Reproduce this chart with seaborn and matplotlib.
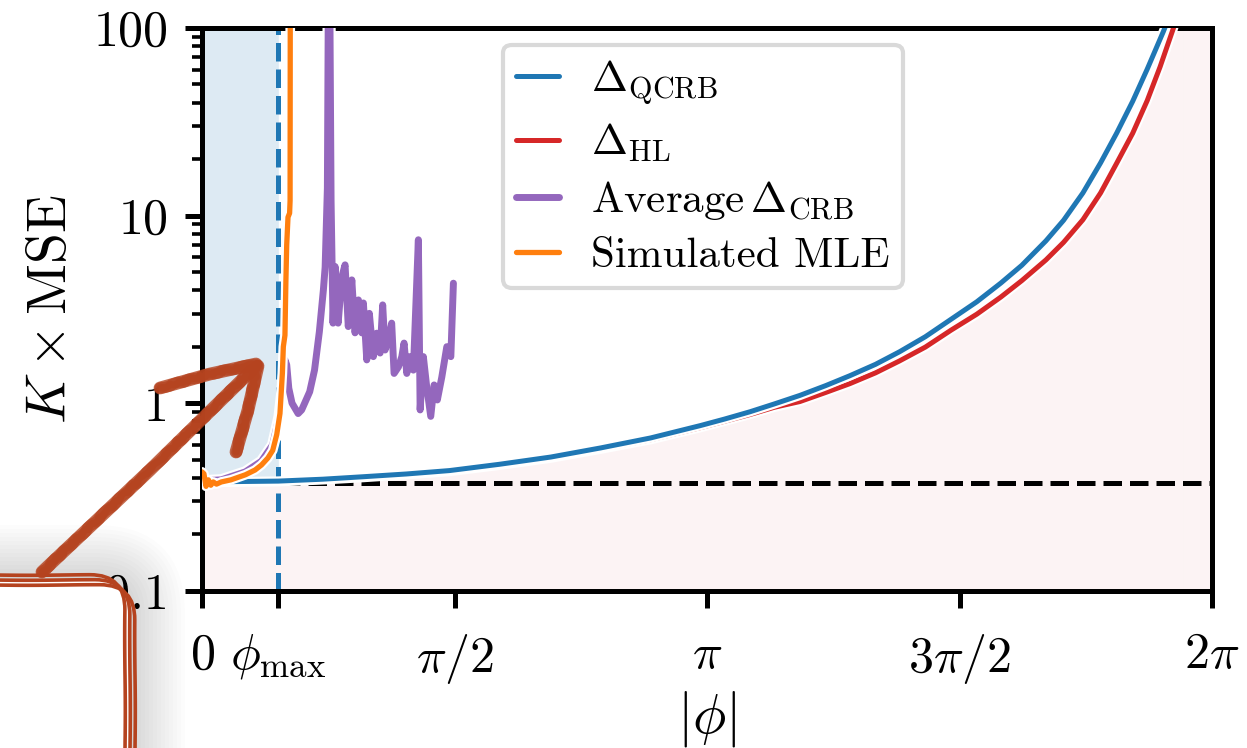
import matplotlib.pyplot as plt
import matplotlib.patheffects as pe
from matplotlib.patches import FancyBboxPatch
from matplotlib.lines import Line2D
from matplotlib.transforms import IdentityTransform
from matplotlib.ticker import NullFormatter
import numpy as np
import seaborn as sns

# --- values ------------------------------------------------------------------
PHI_MAX = 0.475
DASH_LEVEL = 0.377

phi_qcrb = [0.0, 0.475, 0.75, 1.0, 1.27, 1.54, 1.85, 2.17, 2.48, 2.79, 3.1,
            3.25, 3.41, 3.56, 3.72, 3.88, 4.03, 4.19, 4.34, 4.5, 4.66, 4.82,
            4.97, 5.1, 5.25, 5.36, 5.48, 5.59, 5.69, 5.79, 5.88, 5.98, 6.05]
qcrb = [0.380, 0.384, 0.393, 0.405, 0.419, 0.437, 0.472, 0.516, 0.577, 0.652, 0.759,
        0.822, 0.90, 0.99, 1.10, 1.24, 1.40, 1.61, 1.88, 2.26, 2.80, 3.47,
        4.37, 5.43, 7.33, 9.44, 13.2, 19.1, 27.5, 40.7, 60.3, 95.5, 135.0]

phi_hl = [0.0, 0.475, 0.75, 1.0, 1.27, 1.54, 1.85, 2.17, 2.48, 2.79, 3.1,
          3.25, 3.41, 3.56, 3.72, 3.88, 4.03, 4.19, 4.34, 4.5, 4.66, 4.82,
          4.97, 5.1, 5.25, 5.36, 5.48, 5.59, 5.69, 5.79, 5.88, 5.96, 6.04, 6.1]
hl = [0.377, 0.381, 0.390, 0.401, 0.415, 0.432, 0.466, 0.509, 0.568, 0.638, 0.74,
      0.80, 0.87, 0.95, 1.02, 1.14, 1.27, 1.45, 1.68, 1.99, 2.45, 2.98,
      3.68, 4.5, 5.8, 7.2, 9.5, 13.2, 19.0, 27.5, 41.0, 62.0, 98.0, 140.0]

phi_crb = [0.0, 0.12, 0.27, 0.37, 0.44, 0.48, 0.50, 0.516, 0.527, 0.54, 0.56,
           0.598, 0.62, 0.67, 0.70, 0.73, 0.755, 0.766, 0.78, 0.786, 0.795, 0.803,
           0.815, 0.828, 0.847, 0.870, 0.890, 0.910, 0.932, 0.952, 0.973, 0.994,
           1.004, 1.025, 1.041, 1.066, 1.087, 1.108, 1.124, 1.139, 1.159, 1.180,
           1.195, 1.222, 1.243, 1.257, 1.274, 1.294, 1.315, 1.346, 1.357, 1.377,
           1.398, 1.423, 1.444, 1.464, 1.492, 1.523, 1.548, 1.564]
crb = [0.385, 0.39, 0.43, 0.49, 0.60, 0.85, 1.2, 1.7, 1.6, 1.2, 1.0,
       0.88, 0.92, 1.15, 1.5, 2.4, 4.0, 5.3, 14.0, 150.0, 150.0, 12.0,
       2.67, 5.35, 2.67, 4.72, 5.46, 2.56, 4.54, 2.37, 3.55, 2.37,
       3.42, 1.70, 3.01, 1.77, 2.36, 1.85, 3.34, 1.92, 2.17, 2.67,
       1.44, 1.56, 1.77, 2.09, 1.44, 1.77, 1.50, 7.43, 0.92, 1.77,
       1.22, 0.85, 1.25, 1.04, 1.38, 2.0, 1.77, 4.36]

phi_mle = [0.0, 0.012, 0.025, 0.04, 0.055, 0.07, 0.09, 0.12, 0.18, 0.27, 0.33,
           0.37, 0.41, 0.44, 0.465, 0.485, 0.50, 0.506, 0.516, 0.522, 0.527,
           0.535, 0.545, 0.548, 0.549, 0.55]
mle = [0.43, 0.42, 0.36, 0.39, 0.365, 0.38, 0.37, 0.38, 0.39, 0.415, 0.44,
       0.468, 0.51, 0.56, 0.68, 0.88, 1.44, 2.0, 2.3, 4.5, 7.0,
       9.8, 10.3, 12.0, 100.0, 150.0]

xtick_pos = [0, PHI_MAX, np.pi / 2, np.pi, 1.5 * np.pi, 2 * np.pi]
xtick_labels = ["$0$", r"$\phi_{\rm max}$", r"$\pi/2$", r"$\pi$", r"$3\pi/2$", r"$2\pi$"]
ytick_pos = [0.1, 1, 10, 100]
ytick_labels = ["0.1", "1", "10", "100"]

# --- style ---------------------------------------------------------------------
sns.set_theme(style="ticks")
plt.rcParams.update({
    "font.family": "serif",
    "font.serif": ["cmr10"],
    "mathtext.fontset": "cm",
    "axes.formatter.use_mathtext": True,
    "axes.edgecolor": "black",
    "axes.linewidth": 1.8,
    "xtick.color": "black",
    "ytick.color": "black",
    "text.color": "black",
    "axes.labelcolor": "black",
})

W, H, DPI = 1247, 748, 200
fig = plt.figure(figsize=(W / DPI, H / DPI), dpi=DPI)
ax = fig.add_axes([202 / W, 1 - 590.7 / H, 1010 / W, 562.7 / H])
ax.set_yscale("log")


def halo(lw):
    return [pe.Stroke(linewidth=lw + 1.6, foreground="white"), pe.Normal()]


# shaded regions
ax.fill_between(phi_qcrb[:2], qcrb[:2], 100, color="tab:blue", alpha=0.15, lw=0, zorder=0)
ax.fill_between(phi_hl, hl, 0.1, color="tab:red", alpha=0.05, lw=0, zorder=0)
ax.axvspan(phi_hl[-1], 2 * np.pi, color="tab:red", alpha=0.05, lw=0, zorder=0)

ax.axhline(DASH_LEVEL, color="black", ls="--", lw=1.8, zorder=2)
ax.axvline(PHI_MAX, color="tab:blue", ls="--", lw=1.8, zorder=2)

common = dict(ax=ax, estimator=None, sort=False)
sns.lineplot(x=phi_hl, y=hl, color="tab:red", lw=1.8, zorder=3,
             path_effects=halo(1.8), label=r"$\Delta_{\rm HL}$", **common)
sns.lineplot(x=phi_qcrb, y=qcrb, color="tab:blue", lw=1.8, zorder=4,
             path_effects=halo(1.8), label=r"$\Delta_{\rm QCRB}$", **common)
sns.lineplot(x=phi_crb, y=crb, color="tab:purple", lw=2.5, zorder=5,
             path_effects=halo(2.5), label=r"Average$\,\Delta_{\rm CRB}$", **common)
sns.lineplot(x=phi_mle, y=mle, color="tab:orange", lw=1.9, zorder=6,
             path_effects=halo(1.9), label="Simulated MLE", **common)

ax.set_xlim(0, 2 * np.pi)
ax.set_ylim(0.1, 100)
ax.set_xticks(xtick_pos)
ax.set_xticklabels(xtick_labels)
ax.set_yticks(ytick_pos)
ax.set_yticklabels(ytick_labels)
ax.yaxis.set_minor_formatter(NullFormatter())
ax.tick_params(which="major", direction="out", length=6, width=1.8, labelsize=18, pad=6)
ax.tick_params(which="minor", direction="out", length=3.5, width=1.3)
ax.tick_params(axis="x", which="major", pad=9)
ax.set_xlabel(r"$|\phi|$", fontsize=20, labelpad=1)
ax.set_ylabel(r"$K \times \mathrm{MSE}$", fontsize=20, labelpad=6)

handles, labels = ax.get_legend_handles_labels()
order = [1, 0, 2, 3]
leg = ax.legend([handles[i] for i in order], [labels[i] for i in order],
                loc="upper left", bbox_to_anchor=(0.298, 0.97), borderaxespad=0,
                fontsize=15.5, handlelength=1.0, handletextpad=0.75, labelspacing=0.35,
                borderpad=0.3, frameon=True, fancybox=True, framealpha=1,
                edgecolor="0.85")
leg.get_frame().set_linewidth(1.5)

# --- hand-drawn annotation overlay (pixel coords, y from top) -----------------
ink = "#b5431f"


def disp(x, y):
    return x, H - y


# soft shadow around the box
for i in range(14):
    grow = 3 + 4 * i
    x0, y0 = disp(-300 - grow, 1000 + grow)
    fig.patches.append(FancyBboxPatch(
        (x0, y0), 430 + 2 * grow, 420 + 2 * grow,
        boxstyle=f"round,pad=0,rounding_size={35 + grow}",
        transform=IdentityTransform(), facecolor="black", edgecolor="none",
        alpha=0.013, zorder=3))

x0, y0 = disp(-300, 1000)
fig.patches.append(FancyBboxPatch(
    (x0, y0), 430, 420, boxstyle="round,pad=0,rounding_size=35",
    transform=IdentityTransform(), facecolor="white", edgecolor="none", zorder=4))
for off in (-5, 0, 5):
    x0, y0 = disp(-300, 1000)
    p = FancyBboxPatch(
        (x0, y0), 430 + off, 420 - off, boxstyle="round,pad=0,rounding_size=35",
        transform=IdentityTransform(), facecolor="none", edgecolor=ink,
        lw=1.3, zorder=5)
    p.set_sketch_params(0.3, 150, 1.5)
    fig.patches.append(p)

strokes = [
    [(42, 572), (150, 470), (252, 370)],
    [(160, 388), (210, 374), (256, 364)],
    [(258, 366), (248, 410), (236, 452)],
]
for pts in strokes:
    xs, ys = zip(*[disp(x, y) for x, y in pts])
    for lw, sk in ((4.6, None), (4.0, (0.8, 30, 6)), (2.5, (1.2, 20, 10))):
        ln = Line2D(xs, ys, transform=IdentityTransform(), color=ink, lw=lw,
                    solid_capstyle="round", alpha=0.8, zorder=6)
        if sk:
            ln.set_sketch_params(*sk)
        fig.lines.append(ln)

fig.savefig("out.png", dpi=DPI)
plt.close(fig)
